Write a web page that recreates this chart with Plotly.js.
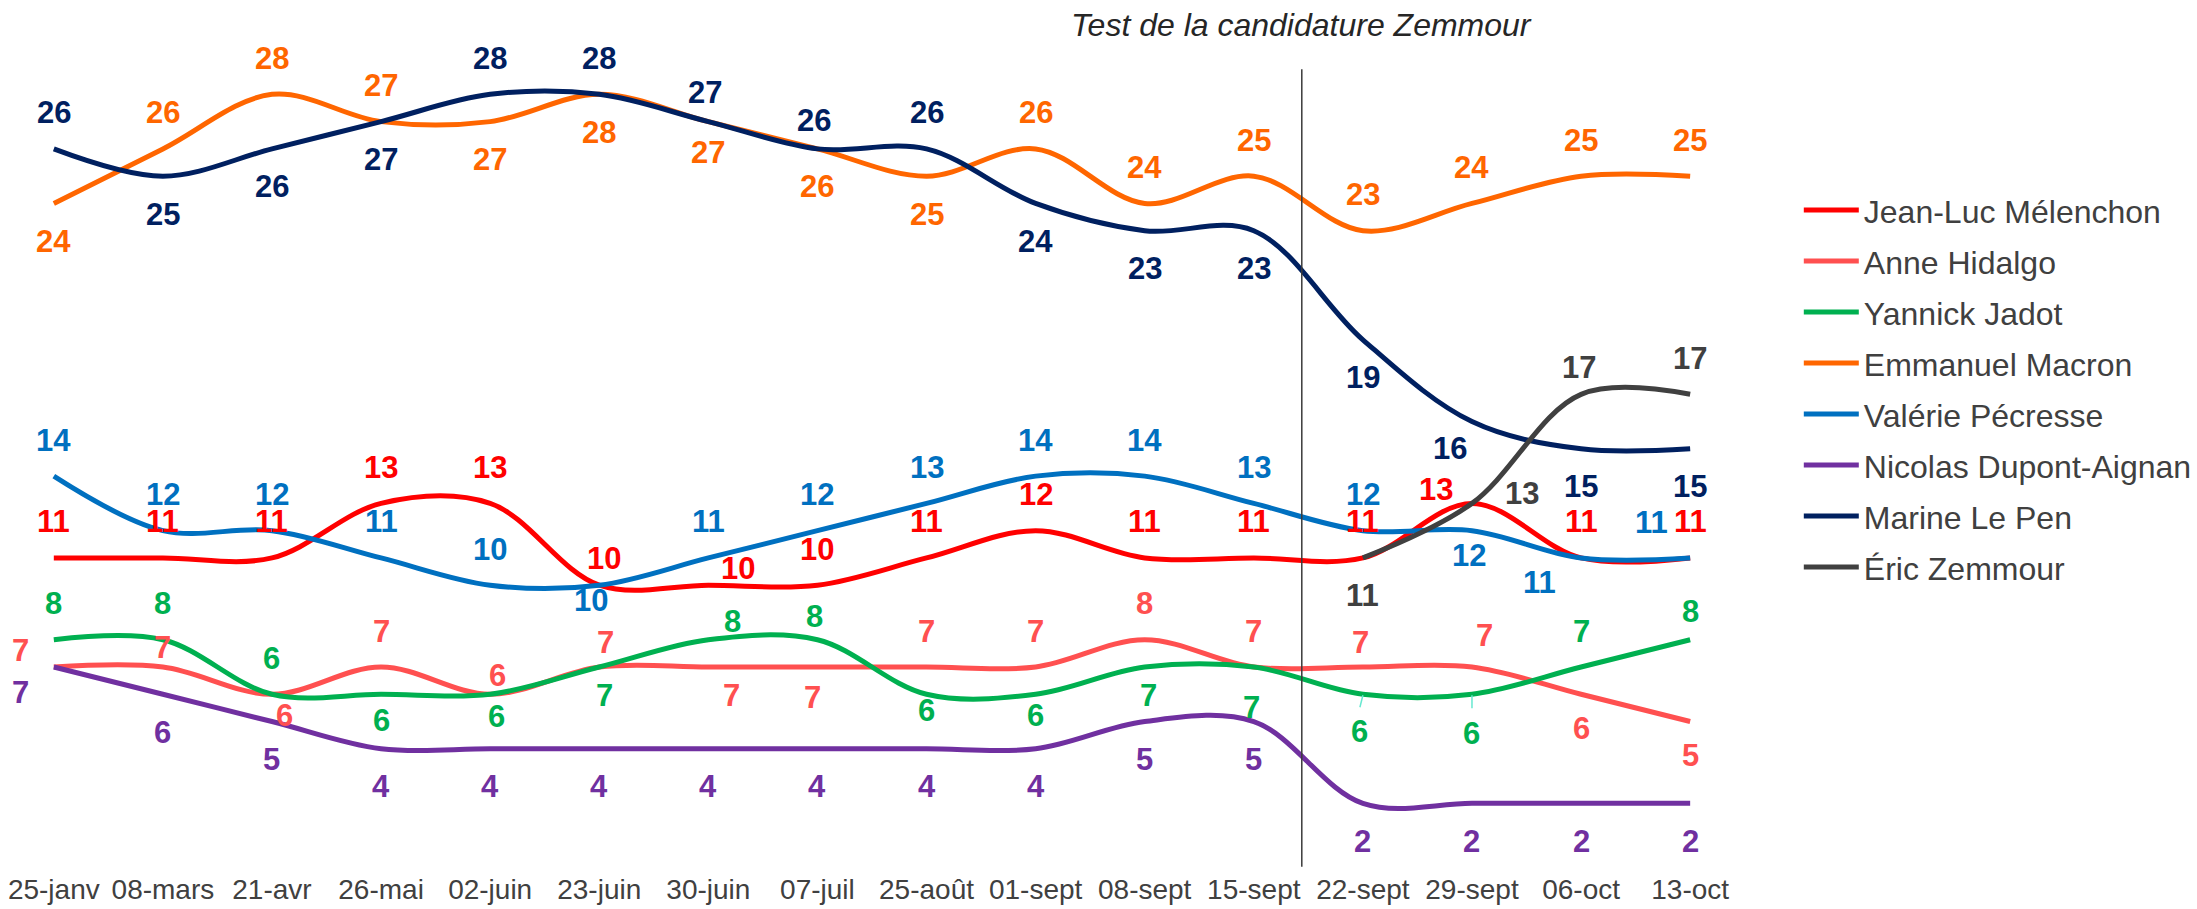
<!DOCTYPE html>
<html><head><meta charset="utf-8">
<script src="https://cdn.plot.ly/plotly-3.0.1.min.js"></script>
<style>html,body{margin:0;padding:0;background:#fff;} #chart{width:2197px;height:909px;}</style>
</head><body><div id="chart"></div>
<script>
// ---- data ----
const categories = ["25-janv","08-mars","21-avr","26-mai","02-juin","23-juin","30-juin","07-juil","25-août","01-sept","08-sept","15-sept","22-sept","29-sept","06-oct","13-oct"];
const melenchon    = [11,11,11,13,13,10,10,10,11,12,11,11,11,13,11,11];
const hidalgo      = [7,7,6,7,6,7,7,7,7,7,8,7,7,7,6,5];
const jadot        = [8,8,6,6,6,7,8,8,6,6,7,7,6,6,7,8];
const macron       = [24,26,28,27,27,28,27,26,25,26,24,25,23,24,25,25];
const pecresse     = [14,12,12,11,10,10,11,12,13,14,14,13,12,12,11,11];
const dupontAignan = [7,6,5,4,4,4,4,4,4,4,5,5,2,2,2,2];
const lePen        = [26,25,26,27,28,28,27,26,26,24,23,23,19,16,15,15];
const zemmour      = [null,null,null,null,null,null,null,null,null,null,null,null,11,13,17,17];
const seriesNames  = ["Jean-Luc Mélenchon","Anne Hidalgo","Yannick Jadot","Emmanuel Macron","Valérie Pécresse","Nicolas Dupont-Aignan","Marine Le Pen","Éric Zemmour"];
const annotationTitle = "Test de la candidature Zemmour";
const zemmourTestPosition = 11.44; // between 15-sept and 22-sept

// ---- styles ----
const colors = ["#FF0000","#FF5050","#00B050","#FF6600","#0070C0","#7030A0","#002060","#404040"];
const A = [0,-36], B = [0,38];
// label pixel offsets [dx, dy] (dy positive = down)
const labelOffsets = [
  [A,A,A,A,A,[5,-27],[30,-17],A,A,A,A,A,A,[-36,-14],A,A],                       // Mélenchon
  [[-33,-17],[0,-20],[13,21],A,[7,-19],[6,-25],[23,28],[-5,30],A,A,A,A,[-2,-25],[13,-32],[0,34],[0,34]], // Hidalgo
  [A,A,A,[0,26],[6,22],[5,28],[24,-18],[-3,-23],[0,16],[0,21],[4,28],[-2,40],[-3,37],[0,39],A,[0,-28]], // Jadot
  [B,A,A,A,B,B,[0,31],B,B,A,A,A,A,A,A,A],                                         // Macron
  [A,A,A,A,A,[-8,15],A,A,A,A,A,A,A,[-3,25],[-42,25],[-39,-35]],                 // Pécresse
  [[-33,25],B,B,B,B,B,B,B,B,B,B,B,B,B,B,B],                                       // Dupont-Aignan
  [A,B,B,B,A,A,[-3,-29],[-3,-28],A,B,B,B,B,[-22,27],B,B],                         // Le Pen
  [null,null,null,null,null,null,null,null,null,null,null,null,B,[50,-10],[-2,-27],A] // Zemmour
];
const allSeries = [melenchon,hidalgo,jadot,macron,pecresse,dupontAignan,lePen,zemmour];
const FONT = "Arial, 'Liberation Sans', sans-serif";

const traces = allSeries.map((vals,i)=>({
  type:'scatter', mode:'lines', x:categories, y:vals, name:seriesNames[i],
  legendgroup:'g'+i,
  line:{color:colors[i], width:5, shape:'spline', smoothing:1},
  hoverinfo:'x+y+name', connectgaps:false
}));

const annotations = [];
allSeries.forEach((vals,i)=>{
  vals.forEach((v,j)=>{
    if(v===null) return;
    const off = labelOffsets[i][j] || A;
    annotations.push({
      x:categories[j], y:v, xref:'x', yref:'y', text:String(v), showarrow:false,
      xshift:off[0], yshift:-off[1], xanchor:'center', yanchor:'middle',
      font:{family:FONT, size:31, color:colors[i], weight:'bold'}
    });
  });
});
annotations.push({
  x:zemmourTestPosition, y:1.018, xref:'x', yref:'paper', text:annotationTitle, showarrow:false,
  xanchor:'center', yanchor:'middle',
  font:{family:FONT, size:32, color:'#262626', style:'italic'}
});

const shapes = [
  {type:'line', xref:'x', yref:'y', x0:zemmourTestPosition, x1:zemmourTestPosition, y0:-0.32, y1:28.92,
   line:{color:'#3a3a3a', width:1.5}},
  // small leader lines of two Jadot labels
  {type:'line', xref:'x', yref:'y', xsizemode:'pixel', ysizemode:'pixel', xanchor:12, yanchor:jadot[12],
   x0:0, x1:-3, y0:-1, y1:-13, line:{color:'#66E8D0', width:1.5}},
  {type:'line', xref:'x', yref:'y', xsizemode:'pixel', ysizemode:'pixel', xanchor:13, yanchor:jadot[13],
   x0:0, x1:0, y0:-1, y1:-14, line:{color:'#66E8D0', width:1.5}}
];

const layout = {
  width:2197, height:909,
  margin:{l:0, r:450, t:40, b:39},
  paper_bgcolor:'#fff', plot_bgcolor:'#fff',
  showlegend:true,
  legend:{x:1.0332, xanchor:'left', y:0.828, yanchor:'top', itemwidth:55, tracegroupgap:6.4,
    font:{family:FONT, size:32, color:'#404040'}, bgcolor:'rgba(0,0,0,0)'},
  xaxis:{type:'category', range:[-0.4933, 15.466], showgrid:false, zeroline:false, showline:false,
    ticks:'', tickfont:{family:FONT, size:28, color:'#404040'}, fixedrange:true},
  yaxis:{range:[-0.4437, 29.993], visible:false, showgrid:false, zeroline:false, fixedrange:true},
  annotations:annotations, shapes:shapes
};
Plotly.newPlot('chart', traces, layout, {displayModeBar:false, staticPlot:true});
</script></body></html>
